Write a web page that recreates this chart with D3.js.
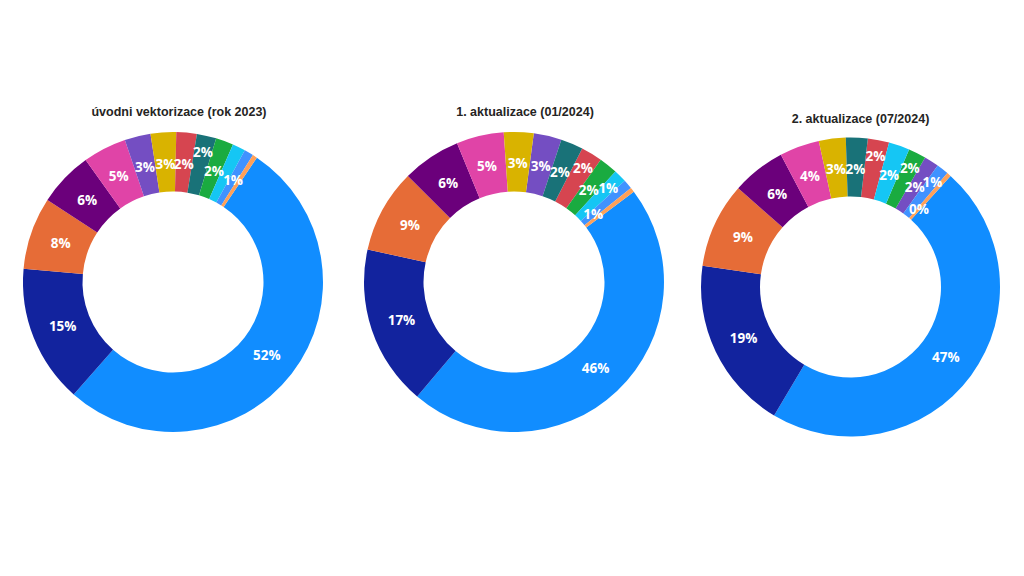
<!DOCTYPE html>
<html><head><meta charset="utf-8">
<script src="https://cdn.jsdelivr.net/npm/d3@7"></script>
<style>html,body{margin:0;padding:0;background:#fff;}svg{display:block;}</style>
</head><body><svg id="chart" width="1024" height="576"></svg>
<script>
// ---- data ----
const categories = ["K01","K02","K03","K04","K05","K06","K07","K08","K09","K10","K11","K12","K13"];
const chartTitles = ["úvodni vektorizace (rok 2023)", "1. aktualizace (01/2024)", "2. aktualizace (07/2024)"];
const values2023   = [52.1, 14.9, 7.8, 5.9, 4.7, 2.8, 2.75, 2.2, 2.1, 1.9, 1.4, 1.0, 0.5];
const values012024 = [46.4, 17.3, 9.0, 6.3, 5.1, 3.0, 3.2, 2.3, 2.4, 2.0, 1.4, 1.0, 0.5];
const values072024 = [46.8, 18.7, 9.2, 5.8, 4.3, 1.6, 2.9, 2.3, 2.35, 1.9, 2.25, 1.3, 0.45];

// ---- style / layout (not data) ----
const palette = ["#118DFF","#12239E","#E66C37","#6B007B","#E044A7","#744EC2","#D9B300","#D64550","#197278","#1AAB40","#15C6F4","#4092FF","#FFA058"];
// label placement per category: m = middle of ring, o = outer, i = inner, - = hidden
const labelModes = [
  ["m","m","m","m","m","m","m","m","o","m","-","m","-"],
  ["m","m","m","m","m","m","m","o","m","m","o","i","-"],
  ["m","m","m","m","m","m","m","o","m","o","m","o","i"]
];
const panels = [
  {cx:173,   cy:282, ro:150,   ri:90.5, start:34, tx:179,   ty:112},
  {cx:514,   cy:282, ro:150,   ri:90.5, start:53, tx:525,   ty:112},
  {cx:850.5, cy:287, ro:149.5, ri:90.5, start:42, tx:860.5, ty:118.5}
];
const seriesList = [values2023, values012024, values072024];

const svg = d3.select("#chart");
svg.append("rect").attr("width",1024).attr("height",576).attr("fill","#fff");
const color = d3.scaleOrdinal().domain(categories).range(palette);

seriesList.forEach((vals, k) => {
  const p = panels[k];
  const data = categories.map((c,i) => ({cat:c, value:vals[i], mode:labelModes[k][i]}));
  const total = d3.sum(data, d => d.value);
  const a0 = p.start * Math.PI / 180;
  const pie = d3.pie().value(d => d.value).sortValues(d3.descending)
    .startAngle(a0).endAngle(a0 + 2*Math.PI);
  const arcs = pie(data);
  const arc = d3.arc().innerRadius(p.ri).outerRadius(p.ro);
  const g = svg.append("g").attr("transform", `translate(${p.cx},${p.cy})`);
  g.selectAll("path").data(arcs).join("path")
    .attr("d", arc).attr("fill", d => color(d.data.cat));

  const rMid = (p.ri + p.ro) / 2 - 1.5;
  const rFor = {m: rMid, o: rMid + 14.5, i: rMid - 14.5};
  g.selectAll("text.lbl").data(arcs.filter(d => d.data.mode !== "-")).join("text")
    .attr("class","lbl")
    .attr("x", d => { const a=(d.startAngle+d.endAngle)/2; return rFor[d.data.mode]*Math.sin(a); })
    .attr("y", d => { const a=(d.startAngle+d.endAngle)/2; return -rFor[d.data.mode]*Math.cos(a); })
    .attr("text-anchor","middle").attr("dominant-baseline","central")
    .attr("font-family","'Open Sans', sans-serif").attr("font-weight",700).attr("font-size",13.5)
    .attr("fill","#fff")
    .text(d => Math.round(d.data.value / total * 100) + "%");

  svg.append("text").attr("x", p.tx).attr("y", p.ty)
    .attr("text-anchor","middle").attr("dominant-baseline","central")
    .attr("font-family","'Liberation Sans', Arial, sans-serif").attr("font-weight",700)
    .attr("font-size",12.5).attr("fill","#252423")
    .text(chartTitles[k]);
});
</script></body></html>
